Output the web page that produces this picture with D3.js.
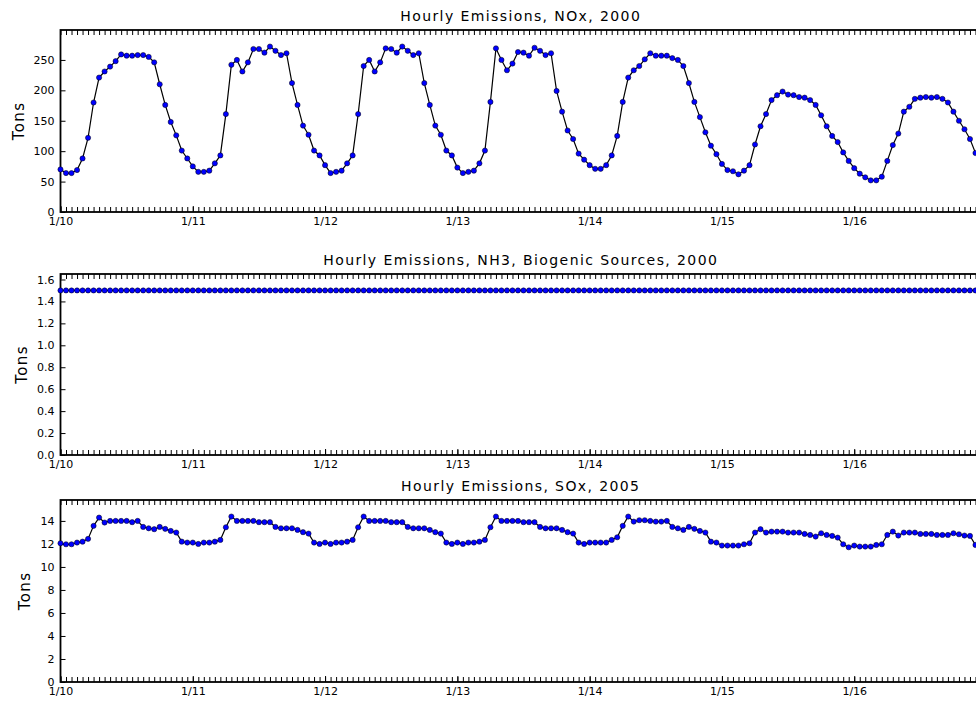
<!DOCTYPE html>
<html>
<head>
<meta charset="utf-8">
<script src="https://cdn.jsdelivr.net/npm/d3@7"></script>
<style>
  body { margin: 0; background: #fff; }
  svg { display: block; font-family: "DejaVu Sans", sans-serif; }
  .tick text { font-size: 11px; fill: #000; font-family: "DejaVu Sans", sans-serif; }
  .tick line { stroke: #000; stroke-width: 1; }
</style>
</head>
<body>
<div id="chart"></div>
<script>
// hourly values, 1/10 00:00 to 1/16 23:00 (one row per day)
const noxValues = [
  70, 64, 64, 69, 88, 122, 180, 221, 231, 239, 248, 259, 257, 257, 258, 258, 255, 246, 210, 176, 148, 126, 101, 88,
  75, 66, 66, 68, 80, 93, 161, 242, 250, 231, 246, 268, 268, 262, 272, 265, 258, 261, 212, 176, 142, 127, 101, 93,
  77, 64, 66, 68, 80, 93, 161, 240, 250, 231, 246, 269, 268, 262, 272, 265, 258, 261, 212, 176, 142, 127, 101, 93,
  73, 64, 66, 68, 80, 101, 181, 269, 250, 233, 244, 263, 262, 257, 270, 265, 258, 261, 199, 165, 134, 120, 96, 86,
  77, 71, 71, 77, 93, 125, 181, 221, 233, 240, 251, 261, 257, 257, 257, 253, 250, 240, 212, 181, 156, 131, 109, 95,
  79, 69, 67, 62, 68, 77, 111, 141, 161, 184, 192, 198, 193, 192, 189, 188, 184, 176, 159, 141, 125, 115, 98, 84,
  72, 63, 57, 52, 52, 58, 84, 110, 129, 165, 173, 186, 188, 189, 188, 189, 186, 180, 165, 150, 136, 120, 97, 82
];

const nh3Values = [
  1.5, 1.5, 1.5, 1.5, 1.5, 1.5, 1.5, 1.5, 1.5, 1.5, 1.5, 1.5, 1.5, 1.5, 1.5, 1.5, 1.5, 1.5, 1.5, 1.5, 1.5, 1.5, 1.5, 1.5,
  1.5, 1.5, 1.5, 1.5, 1.5, 1.5, 1.5, 1.5, 1.5, 1.5, 1.5, 1.5, 1.5, 1.5, 1.5, 1.5, 1.5, 1.5, 1.5, 1.5, 1.5, 1.5, 1.5, 1.5,
  1.5, 1.5, 1.5, 1.5, 1.5, 1.5, 1.5, 1.5, 1.5, 1.5, 1.5, 1.5, 1.5, 1.5, 1.5, 1.5, 1.5, 1.5, 1.5, 1.5, 1.5, 1.5, 1.5, 1.5,
  1.5, 1.5, 1.5, 1.5, 1.5, 1.5, 1.5, 1.5, 1.5, 1.5, 1.5, 1.5, 1.5, 1.5, 1.5, 1.5, 1.5, 1.5, 1.5, 1.5, 1.5, 1.5, 1.5, 1.5,
  1.5, 1.5, 1.5, 1.5, 1.5, 1.5, 1.5, 1.5, 1.5, 1.5, 1.5, 1.5, 1.5, 1.5, 1.5, 1.5, 1.5, 1.5, 1.5, 1.5, 1.5, 1.5, 1.5, 1.5,
  1.5, 1.5, 1.5, 1.5, 1.5, 1.5, 1.5, 1.5, 1.5, 1.5, 1.5, 1.5, 1.5, 1.5, 1.5, 1.5, 1.5, 1.5, 1.5, 1.5, 1.5, 1.5, 1.5, 1.5,
  1.5, 1.5, 1.5, 1.5, 1.5, 1.5, 1.5, 1.5, 1.5, 1.5, 1.5, 1.5, 1.5, 1.5, 1.5, 1.5, 1.5, 1.5, 1.5, 1.5, 1.5, 1.5, 1.5, 1.5
];

const soxValues = [
  12.06, 11.97, 11.97, 12.12, 12.2, 12.44, 13.57, 14.29, 13.86, 14, 14, 14, 14, 13.89, 14, 13.48, 13.36, 13.28, 13.48, 13.31, 13.13, 12.99, 12.2, 12.12,
  12.12, 12.0, 12.12, 12.12, 12.2, 12.35, 13.45, 14.38, 14, 14, 14, 14, 13.89, 13.89, 13.89, 13.48, 13.36, 13.36, 13.36, 13.22, 13.02, 12.9, 12.12, 12.0,
  12.12, 12.0, 12.12, 12.12, 12.2, 12.35, 13.45, 14.38, 14, 14, 14, 14, 13.89, 13.89, 13.89, 13.48, 13.36, 13.36, 13.36, 13.22, 13.02, 12.9, 12.12, 12.0,
  12.12, 12.0, 12.12, 12.12, 12.2, 12.35, 13.45, 14.38, 14, 14, 14, 14, 13.89, 13.89, 13.89, 13.48, 13.36, 13.36, 13.36, 13.22, 13.02, 12.9, 12.12, 12.0,
  12.12, 12.12, 12.12, 12.12, 12.35, 12.58, 13.57, 14.38, 13.94, 14.06, 14.06, 14, 13.94, 13.94, 14, 13.48, 13.36, 13.22, 13.48, 13.31, 13.13, 12.99, 12.2, 12.12,
  11.86, 11.86, 11.86, 11.86, 11.97, 12.06, 12.99, 13.28, 12.99, 13.07, 13.07, 13.07, 12.99, 12.99, 12.99, 12.87, 12.78, 12.64, 12.93, 12.78, 12.7, 12.55, 11.97, 11.71,
  11.86, 11.77, 11.77, 11.77, 11.91, 11.97, 12.78, 13.07, 12.73, 12.99, 12.99, 12.99, 12.87, 12.87, 12.87, 12.78, 12.78, 12.78, 12.93, 12.84, 12.73, 12.7, 11.91, 11.8
];

const titles = [
  "Hourly Emissions, NOx, 2000",
  "Hourly Emissions, NH3, Biogenic Sources, 2000",
  "Hourly Emissions, SOx, 2005"
];
const yTickValues = [
  [0, 50, 100, 150, 200, 250],
  [0, 0.2, 0.4, 0.6, 0.8, 1.0, 1.2, 1.4, 1.6],
  [0, 2, 4, 6, 8, 10, 12, 14]
];
const yTickFormats = [d3.format("d"), d3.format(".1f"), d3.format("d")];
const startDate = new Date(2000, 0, 10, 0);

const width = 976, height = 702;
const left = 60.5, right = 981;
// top and bottom of each plot frame
const panels = [
  { top: 30, bottom: 212, labelX: 18.5 },
  { top: 274, bottom: 455, labelX: 21.5 },
  { top: 500, bottom: 682, labelX: 25 }
];
const series = [noxValues, nh3Values, soxValues];

const svg = d3.select("#chart").append("svg")
  .attr("width", width)
  .attr("height", height);

const dates = noxValues.map((v, i) => d3.timeHour.offset(startDate, i));

const x = d3.scaleTime()
  .domain([dates[0], dates[dates.length - 1]])
  .range([left, right]);

const dayFmt = d3.timeFormat("%-m/%-d");

series.forEach((values, k) => {
  const p = panels[k];
  const y = d3.scaleLinear()
    .domain([0, d3.max(values) * 1.1])
    .range([p.bottom, p.top]);

  const g = svg.append("g");

  // hourly minor ticks, bottom and top, pointing inward
  g.append("g")
    .attr("transform", `translate(0,${p.bottom})`)
    .call(d3.axisBottom(x).ticks(d3.timeHour.every(1)).tickFormat("").tickSize(-5))
    .call(a => a.select(".domain").remove());
  g.append("g")
    .attr("transform", `translate(0,${p.top})`)
    .call(d3.axisTop(x).ticks(d3.timeHour.every(1)).tickFormat("").tickSize(-5))
    .call(a => a.select(".domain").remove());

  // day labels
  g.append("g")
    .attr("transform", `translate(0,${p.bottom})`)
    .call(d3.axisBottom(x).ticks(d3.timeDay.every(1)).tickFormat(dayFmt).tickSize(-6).tickPadding(5))
    .call(a => a.select(".domain").remove());

  // y axis, left and right
  g.append("g")
    .attr("transform", `translate(${left},0)`)
    .call(d3.axisLeft(y).tickValues(yTickValues[k]).tickFormat(yTickFormats[k]).tickSize(-5).tickPadding(6))
    .call(a => a.select(".domain").remove());
  g.append("g")
    .attr("transform", `translate(${right},0)`)
    .call(d3.axisRight(y).tickValues(yTickValues[k]).tickFormat("").tickSize(-5))
    .call(a => a.select(".domain").remove());

  // frame
  g.append("rect")
    .attr("x", left).attr("y", p.top)
    .attr("width", right - left).attr("height", p.bottom - p.top)
    .attr("fill", "none")
    .attr("stroke", "#000")
    .attr("stroke-width", 1.8);

  // line + markers
  const line = d3.line()
    .x((d, i) => x(dates[i]))
    .y(d => y(d));

  g.append("path")
    .datum(values)
    .attr("d", line)
    .attr("fill", "none")
    .attr("stroke", "#000")
    .attr("stroke-width", 1.2);

  g.selectAll("circle")
    .data(values)
    .join("circle")
    .attr("cx", (d, i) => x(dates[i]))
    .attr("cy", d => y(d))
    .attr("r", 2.6)
    .attr("fill", "#0000ff")
    .attr("stroke", "#000")
    .attr("stroke-width", 0.5);

  // title
  g.append("text")
    .attr("x", (left + right) / 2)
    .attr("y", p.top - 9)
    .attr("text-anchor", "middle")
    .attr("font-size", "14px")
    .attr("letter-spacing", "1.4px")
    .attr("fill", "#000")
    .text(titles[k]);

  // y label
  const cy = (p.top + p.bottom) / 2;
  g.append("text")
    .attr("transform", `translate(${p.labelX + 5},${cy}) rotate(-90)`)
    .attr("text-anchor", "middle")
    .attr("font-size", "15px")
    .attr("letter-spacing", "1.4px")
    .attr("fill", "#000")
    .text("Tons");
});
</script>
</body>
</html>
